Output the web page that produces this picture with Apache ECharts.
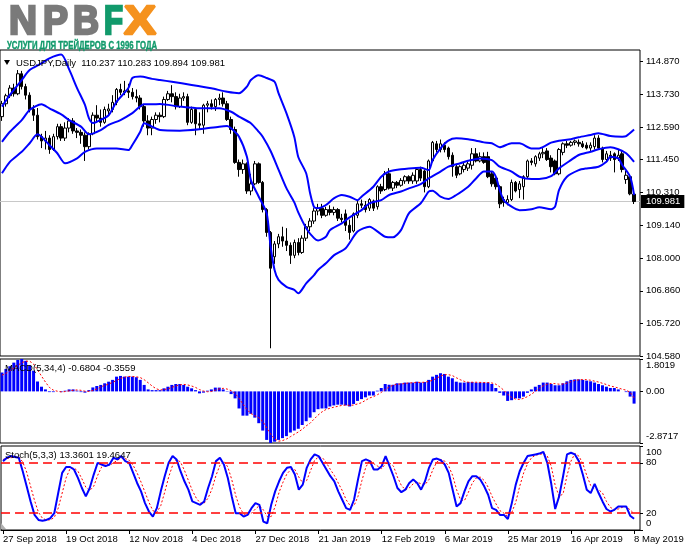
<!DOCTYPE html>
<html>
<head>
<meta charset="utf-8">
<title>USDJPY Daily</title>
<script src="https://cdn.jsdelivr.net/npm/echarts@6/dist/echarts.min.js"></script>
<style>
  html, body { margin: 0; padding: 0; background: #fff; }
  #chart { width: 691px; height: 549px; }
</style>
</head>
<body>
<div id="chart"></div>
<script>
// bottom scale, one date every 16 bars
const dateTicks = ['27 Sep 2018', '19 Oct 2018', '12 Nov 2018', '4 Dec 2018', '27 Dec 2018', '21 Jan 2019',
  '12 Feb 2019', '6 Mar 2019', '25 Mar 2019', '16 Apr 2019', '8 May 2019'];
const priceTicks = [104.58, 105.72, 106.86, 108.0, 109.14, 110.31, 111.45, 112.59, 113.73, 114.87];
const macdTicks = [1.8019, 0, -2.8717];
const stochTicks = [100, 80, 20, 0];

// daily candles [open, close, low, high]
const candles = [
  [112.95,113.40,112.80,113.50],[113.40,113.68,113.30,113.75],[113.68,113.95,113.60,114.05],[113.95,113.75,113.65,114.10],
  [113.75,114.45,113.70,114.58],[114.45,114.00,113.90,114.55],[114.00,113.70,113.55,114.10],[113.70,113.20,113.10,113.80],
  [113.20,113.00,112.80,113.35],[113.00,112.25,112.15,113.25],[112.25,112.10,111.85,112.35],[112.10,112.20,111.80,112.45],
  [112.20,111.80,111.65,112.30],[111.80,112.25,111.75,112.35],[112.25,112.60,112.15,112.70],[112.60,112.20,112.10,112.70],
  [112.20,112.55,112.10,112.75],[112.55,112.80,112.40,112.90],[112.80,112.45,112.35,112.90],[112.45,112.40,112.20,112.55],
  [112.40,112.30,112.00,112.50],[112.30,111.90,111.40,112.40],[111.90,112.35,111.80,112.40],[112.35,113.00,112.30,113.10],
  [113.00,112.90,112.75,113.35],[112.90,112.75,112.60,113.20],[112.75,113.20,112.70,113.30],[113.15,113.22,113.00,113.40],
  [113.20,113.45,113.10,113.70],[113.45,113.90,113.35,113.95],[113.90,113.80,113.70,114.10],[113.80,113.85,113.70,114.20],
  [113.85,113.80,113.60,114.10],[113.80,113.65,113.55,113.95],[113.65,113.60,113.45,113.90],[113.60,113.30,113.20,113.70],
  [113.30,112.80,112.60,113.40],[112.80,112.55,112.30,113.00],[112.55,112.85,112.30,112.95],[112.85,113.00,112.70,113.10],
  [113.00,112.95,112.75,113.10],[112.95,113.55,112.90,113.65],[113.55,113.75,113.50,113.85],[113.75,113.65,113.45,114.05],
  [113.65,113.30,113.20,113.80],[113.30,113.60,113.25,113.75],[113.60,113.65,113.50,113.80],[113.65,112.75,112.65,113.75],
  [112.75,113.20,112.70,113.30],[113.20,112.70,112.30,113.25],[112.70,112.65,112.50,113.10],[112.65,113.35,112.35,113.40],
  [113.35,113.40,113.10,113.50],[113.40,113.30,113.20,113.55],[113.30,113.55,113.15,113.60],[113.55,113.60,113.35,113.75],
  [113.60,113.40,113.30,113.80],[113.40,112.85,112.80,113.50],[112.85,112.50,112.35,112.95],[112.50,111.35,111.30,112.60],
  [111.35,111.10,110.85,111.45],[111.10,111.30,110.95,111.45],[111.30,110.35,110.25,111.35],[110.35,110.60,110.20,110.95],
  [110.60,111.30,110.55,111.40],[111.30,110.65,110.60,111.35],[110.65,109.70,109.60,110.70],[109.70,108.90,108.75,109.75],
  [108.90,107.65,104.85,108.95],[108.05,108.50,107.80,108.60],[108.50,108.75,108.35,108.85],[108.75,108.60,108.40,109.10],
  [108.60,108.45,108.25,109.05],[108.45,108.10,107.80,108.55],[108.10,108.55,108.00,108.65],[108.55,108.20,108.10,108.70],
  [108.20,108.70,108.15,108.80],[108.70,109.10,108.60,109.20],[109.10,109.30,108.95,109.40],[109.30,109.65,109.20,109.75],
  [109.65,109.75,109.50,109.90],[109.75,109.50,109.40,109.90],[109.50,109.70,109.45,109.80],[109.70,109.60,109.50,109.85],
  [109.60,109.70,109.50,109.80],[109.70,109.40,109.30,109.75],[109.40,109.35,109.25,109.55],[109.55,109.15,108.95,109.70],
  [109.15,108.90,108.65,109.35],[108.95,109.55,108.90,109.60],[109.50,109.90,109.40,110.00],[109.90,109.85,109.75,110.05],
  [109.85,109.70,109.60,110.00],[109.75,110.05,109.65,110.10],[110.00,109.75,109.65,110.05],[109.80,110.50,109.70,110.55],
  [110.50,110.35,110.25,110.60],[110.40,110.95,110.35,111.05],[110.95,110.45,110.40,111.15],[110.45,110.65,110.35,110.70],
  [110.65,110.55,110.45,110.70],[110.55,110.72,110.50,110.80],[110.70,110.85,110.60,110.90],[110.85,110.70,110.60,110.90],
  [110.70,110.90,110.60,111.00],[110.70,111.10,110.60,111.15],[111.10,110.80,110.70,111.20],[111.05,110.50,110.30,111.10],
  [110.50,111.40,110.45,111.45],[111.40,112.05,111.35,112.10],[112.00,111.80,111.70,112.10],[111.80,112.00,111.70,112.15],
  [111.95,111.80,111.70,112.05],[111.85,111.55,111.45,111.90],[111.60,111.20,110.85,111.70],[111.20,110.90,110.80,111.30],
  [110.95,111.20,110.90,111.25],[111.10,111.25,111.00,111.35],[111.15,111.30,111.05,111.40],[111.25,111.65,111.10,111.85],
  [111.65,111.40,111.35,111.85],[111.40,111.55,111.35,111.70],[111.55,111.35,111.30,111.70],[111.55,110.85,110.80,111.72],
  [110.95,110.60,110.50,111.05],[110.80,110.50,110.40,110.90],[110.50,109.90,109.75,110.55],[110.05,109.95,109.80,110.15],
  [109.95,110.05,109.85,110.20],[110.05,110.65,110.00,110.75],[110.65,110.35,110.30,110.70],[110.40,110.60,110.10,110.70],
  [110.50,110.85,110.05,110.90],[110.85,111.40,110.80,111.45],[111.40,111.35,111.25,111.50],[111.30,111.55,111.20,111.60],
  [111.50,111.65,111.40,111.72],[111.65,111.70,111.50,111.85],[111.75,111.45,111.40,111.85],[111.50,111.20,111.00,111.60],
  [111.40,110.95,110.90,111.45],[110.95,111.80,110.90,111.85],[111.70,112.00,111.60,112.05],[112.00,111.95,111.85,112.10],
  [111.95,112.05,111.90,112.10],[112.05,112.10,111.95,112.15],[112.05,112.00,111.90,112.15],[112.00,111.90,111.85,112.10],
  [111.95,111.85,111.80,112.05],[111.85,111.95,111.75,112.05],[111.90,112.20,111.80,112.30],[112.20,111.85,111.80,112.30],
  [111.85,111.45,111.35,111.90],[111.45,111.65,111.40,111.75],[111.60,111.50,111.40,111.75],[111.65,111.45,111.00,111.70],
  [111.50,111.60,111.40,111.80],[111.65,111.10,111.00,111.75],[110.75,110.90,110.60,111.05],[110.85,110.25,110.20,110.90],
  [110.237,109.981,109.894,110.283]
];

// Bollinger bands as [bar, price]
const bandUpper = [
  [0,113.30],[2,113.71],[5,114.23],[7,114.58],[10,114.81],[12,114.99],[15,115.12],[17,114.6],[19,113.95],[21,113.36],
  [22,112.9],[23,112.73],[24,112.77],[27,113.0],[29,113.47],[32,113.95],[33,114.3],[35,114.35],[38,114.27],[40,114.23],
  [43,114.17],[48,114.06],[53,113.94],[57,113.82],[60,113.77],[62,114.0],[63,114.23],[65,114.4],[67,114.3],[69,114.17],
  [70,113.77],[72,113.07],[74,112.24],[75,111.54],[77,110.97],[78,110.27],[79,109.79],[80,109.75],[82,109.86],[84,110.09],
  [86,110.21],[88,110.15],[90,110.03],[91,110.15],[94,110.5],[96,110.85],[98,111.03],[101,111.11],[103,111.14],[106,111.16],
  [108,111.08],[109,111.43],[111,111.84],[113,112.11],[115,112.19],[118,112.16],[120,112.11],[122,112.05],[124,112.02],
  [126,111.88],[129,112.02],[131,112.02],[134,111.84],[136,111.84],[139,112.04],[141,112.11],[144,112.16],[146,112.23],
  [149,112.31],[151,112.37],[154,112.27],[157,112.25],[158,112.27],[160,112.5]
];
const bandMiddle = [
  [0,112.07],[2,112.42],[5,112.83],[7,113.18],[10,113.38],[12,113.24],[15,113.03],[17,112.83],[20,112.6],[22,112.33],
  [25,112.48],[27,112.66],[30,112.83],[33,113.07],[36,113.38],[38,113.38],[40,113.39],[45,113.3],[50,113.24],[55,113.24],
  [58,113.12],[60,112.95],[63,112.72],[65,112.42],[66,112.25],[68,111.75],[70,111.1],[72,110.45],[74,109.95],[75,109.6],
  [77,109.05],[79,108.7],[80,108.62],[82,108.75],[83,108.98],[86,109.22],[88,109.43],[91,109.68],[93,109.92],[96,110.03],
  [98,110.21],[101,110.33],[103,110.44],[106,110.59],[108,110.79],[111,111.03],[113,111.2],[116,111.32],[118,111.41],
  [121,111.49],[124,111.43],[126,111.2],[129,111.03],[131,110.85],[134,110.77],[136,110.77],[139,110.87],[141,111.14],
  [144,111.43],[146,111.61],[149,111.72],[151,111.81],[154,111.88],[156,111.81],[158,111.67],[160,111.37]
];
const bandLower = [
  [0,110.97],[2,111.37],[5,111.72],[7,112.02],[9,112.33],[10,112.25],[12,111.96],[14,111.67],[16,111.32],[19,111.49],
  [21,111.72],[24,111.84],[27,111.84],[29,111.84],[32,111.78],[33,111.96],[35,112.42],[36,112.72],[38,112.6],[40,112.48],
  [45,112.46],[50,112.51],[55,112.6],[57,112.62],[58,112.54],[60,112.25],[62,111.55],[63,110.73],[65,110.15],[67,109.57],
  [68,108.4],[69,107.59],[70,107.24],[72,107.0],[74,106.89],[75,106.77],[77,107.12],[79,107.41],[80,107.59],[82,107.82],
  [84,108.1],[87,108.35],[90,108.93],[93,109.1],[97,108.75],[99,108.73],[101,108.98],[103,109.57],[106,109.92],[108,110.33],
  [109,110.36],[111,110.15],[113,110.07],[115,110.21],[118,110.5],[120,110.79],[122,111.03],[124,111.03],[125,110.85],
  [126,110.38],[127,110.03],[129,109.8],[131,109.68],[134,109.71],[136,109.78],[139,109.71],[140,109.8],[141,110.38],
  [143,110.85],[146,111.08],[148,111.14],[151,111.2],[153,111.37],[154,111.55],[156,111.49],[157,111.26],[159,110.85],[160,110.21]
];

const macdMain = [
  1.05,1.25,1.40,1.60,1.75,1.80,1.70,1.45,1.15,0.55,
  0.26,0.11,-0.04,-0.04,0.00,-0.04,0.04,0.11,0.11,0.04,
  -0.04,-0.07,0.07,0.22,0.30,0.36,0.45,0.54,0.64,0.82,
  0.86,0.82,0.82,0.82,0.79,0.64,0.36,0.11,0.07,0.07,
  0.07,0.17,0.26,0.36,0.41,0.41,0.36,0.26,0.17,0.07,
  -0.11,-0.07,0.04,0.11,0.21,0.21,0.11,-0.02,-0.15,-0.39,
  -0.95,-1.35,-1.35,-1.25,-1.46,-1.77,-2.18,-2.70,-2.87,-2.80,
  -2.70,-2.60,-2.49,-2.29,-2.18,-2.08,-1.87,-1.66,-1.46,-1.16,
  -0.99,-0.95,-0.95,-0.84,-0.78,-0.74,-0.74,-0.78,-0.84,-0.70,
  -0.53,-0.43,-0.33,-0.23,-0.23,0.04,0.19,0.41,0.37,0.37,
  0.45,0.45,0.49,0.49,0.49,0.54,0.49,0.52,0.64,0.82,
  0.92,1.01,0.97,0.82,0.73,0.54,0.49,0.49,0.52,0.52,
  0.49,0.49,0.49,0.49,0.41,0.19,-0.08,-0.23,-0.53,-0.49,
  -0.39,-0.39,-0.29,-0.08,0.11,0.26,0.36,0.49,0.49,0.41,
  0.34,0.34,0.45,0.56,0.64,0.67,0.67,0.64,0.60,0.56,
  0.49,0.41,0.34,0.26,0.19,0.19,0.11,0.00,-0.04,-0.29,
  -0.6804
];
const macdSignal = [
  0.90,1.00,1.15,1.30,1.45,1.60,1.68,1.68,1.52,1.20,
  0.85,0.52,0.22,0.07,0.01,-0.03,-0.01,0.03,0.06,0.08,
  0.06,0.01,0.00,0.05,0.13,0.24,0.33,0.41,0.50,0.61,
  0.72,0.79,0.83,0.83,0.81,0.77,0.65,0.48,0.30,0.15,
  0.08,0.10,0.14,0.22,0.30,0.36,0.39,0.36,0.30,0.22,
  0.10,0.02,-0.02,-0.01,0.07,0.14,0.17,0.13,0.04,-0.11,
  -0.38,-0.71,-1.01,-1.23,-1.35,-1.46,-1.67,-2.03,-2.38,-2.64,
  -2.77,-2.74,-2.65,-2.52,-2.39,-2.26,-2.11,-1.92,-1.77,-1.54,
  -1.32,-1.14,-1.01,-0.94,-0.88,-0.83,-0.78,-0.76,-0.78,-0.76,
  -0.70,-0.63,-0.50,-0.37,-0.30,-0.19,-0.06,0.10,0.25,0.34,
  0.40,0.41,0.44,0.47,0.48,0.50,0.50,0.51,0.55,0.62,
  0.73,0.85,0.93,0.93,0.88,0.76,0.65,0.56,0.51,0.51,
  0.51,0.50,0.49,0.49,0.47,0.40,0.25,0.07,-0.16,-0.33,
  -0.43,-0.45,-0.39,-0.29,-0.16,0.00,0.16,0.31,0.40,0.44,
  0.43,0.40,0.41,0.46,0.54,0.61,0.64,0.66,0.65,0.62,
  0.57,0.52,0.45,0.38,0.30,0.25,0.19,0.12,0.07,-0.05,
  -0.3559
];

const stochK = [
  82,86,88,87,86,70,52,34,18,12,
  11,12,14,20,44,68,75,75,72,62,
  50,40,50,66,80,78,76,78,86,84,
  88,82,80,68,56,46,32,22,16,26,
  46,64,80,88,84,70,58,48,34,32,
  30,34,50,64,82,86,78,62,40,20,
  20,16,18,26,32,30,10,8,30,46,
  58,68,74,75,66,48,54,74,84,90,
  88,80,72,64,58,46,36,26,24,36,
  60,82,84,82,72,72,76,88,76,64,
  50,45,48,56,60,56,48,58,74,84,
  85,83,78,68,48,28,32,46,58,64,
  64,60,52,42,26,24,18,18,13,32,
  54,70,80,88,89,90,91,93,80,55,
  25,40,64,90,92,90,82,66,48,44,
  55,44,34,25,22,24,28,28,28,17,
  13.3601
];
const stochD = [
  84,85,86,87,87,81,69,52,35,21,
  14,12,12,15,26,44,62,73,74,70,
  61,51,47,52,65,75,78,77,80,83,
  86,85,83,77,68,57,45,33,23,21,
  29,45,63,77,84,81,71,59,47,38,
  32,32,38,49,65,77,82,75,60,41,
  27,19,18,20,25,29,24,16,16,28,
  45,57,67,72,72,63,56,59,71,83,
  87,86,80,72,65,56,47,36,29,29,
  40,59,75,83,79,76,73,79,80,76,
  63,53,48,50,55,57,55,54,60,72,
  81,84,82,76,65,48,36,35,45,56,
  62,63,59,51,40,31,23,20,16,21,
  33,52,68,79,86,89,90,91,88,76,
  53,40,43,65,82,91,88,79,65,53,
  49,48,44,34,27,24,25,27,28,24,
  19.4647
];

const font = 'Liberation Sans';
const fs = 9.5;
const ink = '#000';
const blue = '#0000ff';
const red = '#ff0000';
const last = candles[candles.length - 1];
const bid = last[1];
const slots = candles.length + 1; // MT4 keeps one empty slot on the right
const categories = Array.from({ length: slots }, (_, i) => String(i));
const f3 = v => v.toFixed(3);
const f4 = v => v.toFixed(4);

const measure = (txt, css) => {
  const ctx = document.createElement('canvas').getContext('2d');
  ctx.font = css;
  return ctx.measureText(txt).width;
};
const fitText = (txt, css, x0, x1, yMid, fill, weight) => ({
  type: 'text', x: x0, y: yMid, scaleX: (x1 - x0) / measure(txt, css), z: 10,
  style: { text: txt, font: css, fill, stroke: fill, lineWidth: weight, verticalAlign: 'middle' }
});

const grey = '#7a7a7a';
const green = '#119a6b';
const orange = '#f5921e';
const logoFont = 'bold 40px "Liberation Sans"';
const logo = [
  fitText('N', logoFont, 9, 37, 23, grey, 2.5),
  fitText('P', logoFont, 43, 68, 23, grey, 2.5),
  fitText('B', logoFont, 73, 99, 23, grey, 2.5),
  fitText('F', logoFont, 104, 123, 23, green, 2.5),
  fitText('X', logoFont, 124, 156, 23, orange, 2.5),
  fitText('УСЛУГИ ДЛЯ ТРЕЙДЕРОВ С 1996 ГОДА', 'bold 11px "Liberation Sans"', 7, 157, 46, green, 0.4)
];

const labelText = (txt, x, yMid) => ({
  type: 'text', x, y: yMid, z: 20,
  style: { text: txt, font: `${fs}px "Liberation Sans"`, fill: ink, verticalAlign: 'middle' }
});

const gridBox = { show: true, borderColor: ink, borderWidth: 1, backgroundColor: '#fff' };
const grids = [
  { left: 0, top: 50, width: 640, height: 306, ...gridBox },
  { left: 0, top: 359, width: 640, height: 84, ...gridBox },
  { left: 0, top: 446, width: 640, height: 84, ...gridBox }
];

const xAxis = [0, 1, 2].map(g => ({
  type: 'category', gridIndex: g, data: categories, boundaryGap: true,
  axisLine: { show: g === 2, lineStyle: { color: ink } },
  axisTick: { show: g === 2, alignWithLabel: true, length: 4, interval: i => i % 16 === 0, lineStyle: { color: ink } },
  axisLabel: {
    show: g === 2, interval: i => i % 16 === 0, formatter: (v, i) => dateTicks[i / 16] || '',
    align: 'left', margin: 4, color: ink, fontSize: fs, fontFamily: font
  },
  splitLine: { show: false }
}));

const edgeRich = {
  dn: { padding: [13, 0, 0, 0], fontSize: fs, fontFamily: font, color: ink },
  up: { padding: [0, 0, 13, 0], fontSize: fs, fontFamily: font, color: ink }
};
const yBase = (g, min, max, ticks, fmt) => ({
  type: 'value', gridIndex: g, position: 'right', min, max,
  axisLine: { show: false }, splitLine: { show: false },
  axisTick: { show: true, length: 3, customValues: ticks, lineStyle: { color: ink } },
  axisLabel: { customValues: ticks, formatter: fmt, color: ink, fontSize: fs, fontFamily: font, margin: 6, rich: edgeRich }
});
const yAxis = [
  yBase(0, 104.58, 115.28, priceTicks, v => f3(v)),
  yBase(1, -2.8717, 1.8019, macdTicks, v => v === 0 ? '0.00' : v > 0 ? `{dn|${f4(v)}}` : `{up|${f4(v)}}`),
  yBase(2, 0, 100, stochTicks, v => v === 100 ? '{dn|100}' : v === 0 ? '{up|0}' : String(v))
];

const bandLine = data => ({
  type: 'line', xAxisIndex: 0, yAxisIndex: 0, data, smooth: 0.25, showSymbol: false, z: 4,
  lineStyle: { color: blue, width: 2 }
});

const chart = echarts.init(document.getElementById('chart'));
chart.setOption({
  backgroundColor: '#fff',
  animation: false,
  grid: grids,
  xAxis,
  yAxis,
  series: [
    {
      type: 'candlestick', xAxisIndex: 0, yAxisIndex: 0, data: candles, barWidth: 3, z: 3,
      itemStyle: { color: '#fff', color0: ink, borderColor: ink, borderColor0: ink, borderWidth: 1 },
      markLine: {
        silent: true, symbol: ['none', 'none'], z: 1,
        lineStyle: { color: '#c8c8c8', type: 'solid', width: 1 },
        label: {
          show: true, position: 'end', distance: 1, formatter: f3(bid), color: '#fff', backgroundColor: ink,
          padding: [2, 4, 1, 5], fontSize: fs, fontFamily: font
        },
        data: [{ yAxis: bid }]
      }
    },
    bandLine(bandUpper),
    bandLine(bandMiddle),
    bandLine(bandLower),
    {
      type: 'bar', xAxisIndex: 1, yAxisIndex: 1, data: macdMain, barWidth: 3,
      itemStyle: { color: blue }
    },
    {
      type: 'line', xAxisIndex: 1, yAxisIndex: 1, data: macdSignal, showSymbol: false,
      lineStyle: { color: red, width: 1, type: [2, 2] }
    },
    {
      type: 'line', xAxisIndex: 2, yAxisIndex: 2, data: stochD, showSymbol: false, z: 2,
      lineStyle: { color: red, width: 1, type: [2, 2] }
    },
    {
      type: 'line', xAxisIndex: 2, yAxisIndex: 2, data: stochK, showSymbol: false, z: 3,
      lineStyle: { color: blue, width: 2 },
      markLine: {
        silent: true, symbol: ['none', 'none'], label: { show: false },
        lineStyle: { color: red, type: [9, 5], width: 1.5 },
        data: [{ yAxis: 80 }, { yAxis: 20 }]
      }
    }
  ],
  graphic: [
    ...logo,
    { type: 'polygon', z: 20, shape: { points: [[4, 60], [10, 60], [7, 65]] }, style: { fill: ink } },
    labelText(`USDJPY,Daily  ${f3(last[0])} ${f3(last[3])} ${f3(last[2])} ${f3(last[1])}`, 16, 63),
    labelText(`MACD(5,34,4) ${f4(macdMain[macdMain.length - 1])} ${f4(macdSignal[macdSignal.length - 1])}`, 5, 368),
    labelText(`Stoch(5,3,3) ${f4(stochK[stochK.length - 1])} ${f4(stochD[stochD.length - 1])}`, 5, 455),
    { type: 'polygon', z: 20, shape: { points: [[1, 523], [1, 529], [6, 529]] }, style: { fill: '#b0b0b0' } }
  ]
});
</script>
</body>
</html>
